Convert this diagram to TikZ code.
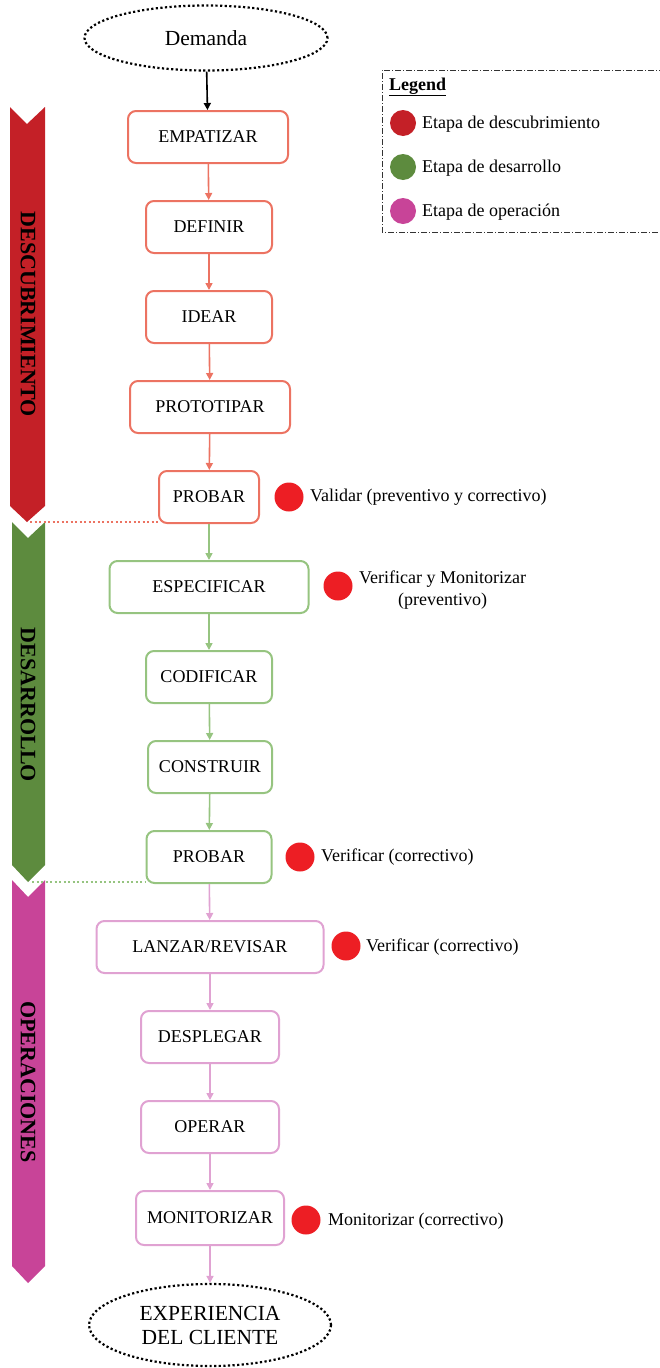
\documentclass[tikz,border=0pt]{standalone}
\usepackage{fontspec}
\setmainfont{Liberation Serif}
\usetikzlibrary{shapes.geometric,arrows.meta}

\definecolor{descred}{RGB}{196,32,39}
\definecolor{desagreen}{RGB}{93,139,62}
\definecolor{operpink}{RGB}{200,68,152}
\definecolor{descline}{RGB}{236,115,98}
\definecolor{desaline}{RGB}{150,196,128}
\definecolor{operline}{RGB}{224,162,210}
\definecolor{dotred}{RGB}{237,30,36}

\tikzset{
	etapa/.style={draw, rounded corners=8pt, line width=2pt, minimum height=52pt, inner sep=0pt, font=\fontsize{18}{21}\selectfont},
	desc/.style={etapa, draw=descline},
	desa/.style={etapa, draw=desaline},
	oper/.style={etapa, draw=operline},
	extremo/.style={ellipse, draw, line width=2.2pt, dash pattern=on 2.2pt off 2.4pt, inner sep=0pt, align=center, font=\fontsize{21.5}{24}\selectfont},
	flecha/.style={-{Triangle[length=7pt,width=7pt]}, line width=1.6pt},
	punto/.style={circle, fill=dotred, minimum size=29pt, inner sep=0pt},
	nota/.style={anchor=west, inner sep=0pt, align=center, font=\fontsize{18}{22}\selectfont},
	banda/.style={rotate=-90, font=\bfseries\fontsize{22}{24}\selectfont},
}

\begin{document}
\begin{tikzpicture}[x=1pt,y=-1pt]
	\useasboundingbox (0,0) rectangle (659,1368);

	%stage bands
	\fill[descred]		(10,107)--(27,124)--(45,107)--(45,506)--(27,522)--(10,506)--cycle;
	\fill[desagreen]	(12,522)--(28,538)--(45,522)--(45,865)--(28,882)--(12,865)--cycle;
	\fill[operpink]		(12,880)--(28,897)--(45,880)--(45,1266)--(28,1283)--(12,1266)--cycle;
	\node[banda] (bdesc) at (28,314) 	{DESCUBRIMIENTO};
	\node[banda] (bdesa) at (28,705) 	{DESARROLLO};
	\node[banda] (boper) at (28,1082) 	{OPERACIONES};
	\coordinate (tdesc) at (30,522);
	\coordinate (tdesa) at (32,882);

	%start and end
	\node[extremo, minimum width=243pt, minimum height=65pt] (demanda) at (206,38) {Demanda};
	\node[extremo, minimum width=242pt, minimum height=82pt] (cliente) at (210,1325) {EXPERIENCIA\\DEL CLIENTE};

	%boxes
	\node[desc, minimum width=160pt] (empatizar) 	at (208,137) 	{EMPATIZAR};
	\node[desc, minimum width=126pt] (definir) 		at (209,227) 	{DEFINIR};
	\node[desc, minimum width=126pt] (idear) 		at (209,317) 	{IDEAR};
	\node[desc, minimum width=160pt] (prototipar) 	at (210,407) 	{PROTOTIPAR};
	\node[desc, minimum width=100pt] (probarA) 		at (209,497) 	{PROBAR};
	\node[desa, minimum width=199pt] (especificar) 	at (209,587) 	{ESPECIFICAR};
	\node[desa, minimum width=126pt] (codificar) 	at (209,677) 	{CODIFICAR};
	\node[desa, minimum width=124pt] (construir) 	at (210,767) 	{CONSTRUIR};
	\node[desa, minimum width=125pt] (probarB) 		at (209,857) 	{PROBAR};
	\node[oper, minimum width=227pt] (lanzar) 		at (210,947) 	{LANZAR/REVISAR};
	\node[oper, minimum width=138pt] (desplegar) 	at (210,1037) 	{DESPLEGAR};
	\node[oper, minimum width=138pt] (operar) 		at (210,1127) 	{OPERAR};
	\node[oper, minimum width=148pt, minimum height=54pt] (monitorizar) at (210,1218) {MONITORIZAR};

	%arrows
	\draw[flecha] 				(demanda) -- (empatizar);
	\draw[flecha, descline] 	(empatizar) -- (definir);
	\draw[flecha, descline] 	(definir) -- (idear);
	\draw[flecha, descline] 	(idear) -- (prototipar);
	\draw[flecha, descline] 	(prototipar) -- (probarA);
	\draw[flecha, desaline] 	(probarA) -- (especificar);
	\draw[flecha, desaline] 	(especificar) -- (codificar);
	\draw[flecha, desaline] 	(codificar) -- (construir);
	\draw[flecha, desaline] 	(construir) -- (probarB);
	\draw[flecha, operline] 	(probarB) -- (lanzar);
	\draw[flecha, operline] 	(lanzar) -- (desplegar);
	\draw[flecha, operline] 	(desplegar) -- (operar);
	\draw[flecha, operline] 	(operar) -- (monitorizar);
	\draw[flecha, operline] 	(monitorizar) -- (cliente);

	%stage limits
	\draw[descline, line width=2pt, dash pattern=on 2pt off 2.5pt] (tdesc) -- (tdesc -| probarA.south west);
	\draw[desaline, line width=2pt, dash pattern=on 2pt off 2.5pt] (tdesa) -- (tdesa -| probarB.south west);

	%checks
	\node[punto] (pA) at (289,497) {};
	\node[nota] (nA) at (310,497) {Validar (preventivo y correctivo)};
	\node[punto] (pE) at (338,586) {};
	\node[nota] (nE) at (359,590) {Verificar y Monitorizar\\(preventivo)};
	\node[punto] (pB) at (300,857) {};
	\node[nota] (nB) at (321,857) {Verificar (correctivo)};
	\node[punto] (pL) at (346,946) {};
	\node[nota] (nL) at (366,947) {Verificar (correctivo)};
	\node[punto] (pM) at (306,1220) {};
	\node[nota] (nM) at (328,1221) {Monitorizar (correctivo)};

	%legend
	\draw[line width=0.8pt, black!80, dash pattern=on 6pt off 2pt on 1pt off 2pt] (665,70)--(382,70)--(382,232)--(665,232);
	\node[nota] (leg) at (389,87) {\underline{\textbf{Legend}}};
	\node[circle, fill=descred, minimum size=26pt, inner sep=0pt] (lr) at (403,123) {};
	\node[nota] (lrt) at (422,124) {Etapa de descubrimiento};
	\node[circle, fill=desagreen, minimum size=26pt, inner sep=0pt] (lg) at (403,167) {};
	\node[nota] (lgt) at (422,168) {Etapa de desarrollo};
	\node[circle, fill=operpink, minimum size=26pt, inner sep=0pt] (lp) at (403,211) {};
	\node[nota] (lpt) at (422,212) {Etapa de operación};
\end{tikzpicture}
\end{document}
